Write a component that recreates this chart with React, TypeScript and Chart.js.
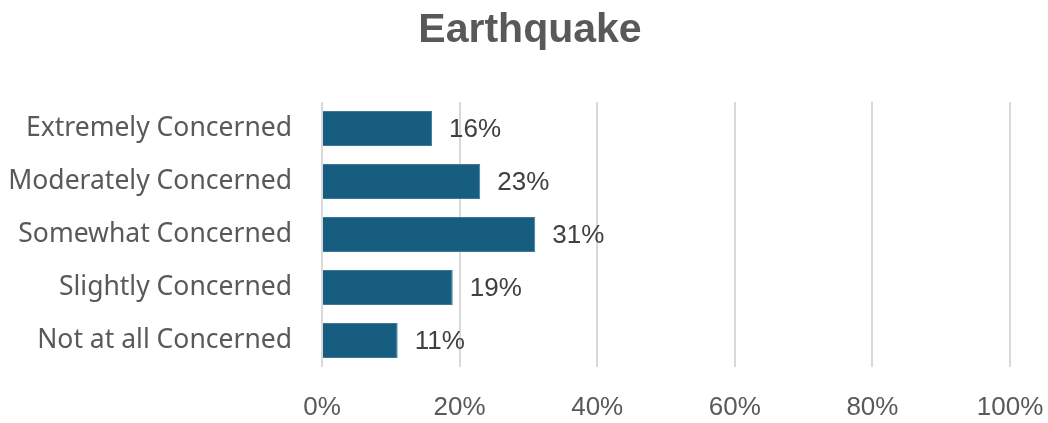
import React, { useEffect, useRef } from "react";
import { Chart, registerables } from "chart.js";

Chart.register(...registerables);

const chartTitle = "Earthquake";
const categories = [
  "Extremely Concerned",
  "Moderately Concerned",
  "Somewhat Concerned",
  "Slightly Concerned",
  "Not at all Concerned",
];
const shares = [16, 23, 31, 19, 11];
const axisTicks = [0, 20, 40, 60, 80, 100];

const barColor = "#175d80";
const textGray = "#595959";
const labelGray = "#404040";

// Heading drawn above the plot, centred on the figure
const headline = {
  id: "headline",
  afterDraw(chart: any) {
    const { ctx } = chart;
    ctx.save();
    ctx.font = "bold 41px 'Liberation Sans', Arial, sans-serif";
    ctx.fillStyle = textGray;
    ctx.textAlign = "center";
    ctx.textBaseline = "alphabetic";
    ctx.fillText(chartTitle, 530, 42);
    ctx.restore();
  },
};

// Writes each bar's percentage just past its end
const valueLabels = {
  id: "valueLabels",
  afterDatasetsDraw(chart: any) {
    const { ctx } = chart;
    const meta = chart.getDatasetMeta(0);
    ctx.save();
    ctx.font = "26px 'Liberation Sans', Arial, sans-serif";
    ctx.fillStyle = labelGray;
    ctx.textAlign = "left";
    ctx.textBaseline = "middle";
    meta.data.forEach((bar: any, i: number) => {
      ctx.fillText(`${shares[i]}%`, bar.x + 17, bar.y + 1);
    });
    ctx.restore();
  },
};

export default function App() {
  const canvasRef = useRef<HTMLCanvasElement | null>(null);

  useEffect(() => {
    if (!canvasRef.current) return;
    const chart = new Chart(canvasRef.current, {
      type: "bar",
      data: {
        labels: categories,
        datasets: [
          {
            data: shares,
            backgroundColor: barColor,
            borderColor: "#3f7896",
            borderWidth: 1,
            barPercentage: 0.66,
            categoryPercentage: 1,
          },
        ],
      },
      options: {
        indexAxis: "y",
        animation: false,
        responsive: false,
        layout: { padding: { left: 0, right: 38, top: 102, bottom: 0 } },
        plugins: {
          legend: { display: false },
          tooltip: { enabled: false },
          title: { display: false },
        },
        scales: {
          x: {
            min: 0,
            max: 100,
            afterBuildTicks(scale: any) {
              scale.ticks = axisTicks.map((v) => ({ value: v }));
            },
            afterFit(scale: any) {
              scale.height = 56;
              scale.paddingLeft = 0;
              scale.paddingRight = 0;
            },
            grid: { color: "#d9d9d9", lineWidth: 2, drawTicks: false },
            border: { display: false },
            ticks: {
              padding: 25,
              color: textGray,
              font: { family: "'Liberation Sans', Arial, sans-serif", size: 26 },
              callback: (v: any) => `${v}%`,
            },
          },
          y: {
            afterFit(scale: any) {
              scale.width = 322;
            },
            grid: { display: false, drawTicks: false },
            border: { display: false },
            ticks: {
              padding: 30,
              color: textGray,
              font: { family: "'Noto Sans', sans-serif", size: 26.5 },
            },
          },
        },
      },
      plugins: [headline, valueLabels],
    });
    return () => chart.destroy();
  }, []);

  return (
    <div style={{ position: "fixed", left: 0, top: 0, width: 1048, height: 423, background: "#ffffff" }}>
      <canvas ref={canvasRef} width={1048} height={423} />
    </div>
  );
}
